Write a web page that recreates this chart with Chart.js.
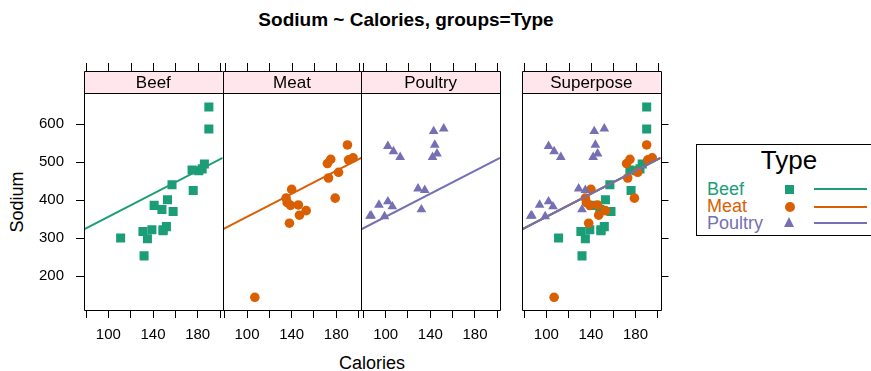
<!DOCTYPE html>
<html><head><meta charset="utf-8">
<script src="https://cdn.jsdelivr.net/npm/chart.js@4"></script>
<style>
html,body{margin:0;padding:0;background:#fff;width:871px;height:371px;overflow:hidden;font-family:"Liberation Sans",Arial,Helvetica,sans-serif;}
#wrap{position:relative;width:871px;height:371px;overflow:hidden;}
canvas{position:absolute;left:0;top:0;}
.t{position:absolute;white-space:nowrap;color:#000;}
</style></head><body>
<div id="wrap">
  <div class="t" style="left:0;width:812px;top:9.5px;font-size:19px;line-height:19px;font-weight:bold;text-align:center;">Sodium ~ Calories, groups=Type</div>
  <div class="t" style="left:272px;width:200px;top:354px;font-size:18px;line-height:18px;text-align:center;">Calories</div>
  <div class="t" style="left:-33px;width:100px;top:193px;font-size:18px;line-height:18px;text-align:center;transform:rotate(-90deg);">Sodium</div>
  <div id="legend" style="position:absolute;left:696px;top:144px;width:220px;height:92px;border:1px solid #000;box-sizing:border-box;"></div>
</div>
<script>
// ---- data ----
const groups = ['Beef', 'Meat', 'Poultry'];
const beefCalories = [186,181,176,149,184,190,158,139,175,148,152,111,141,153,190,157,131,149,135,132];
const beefSodium   = [495,477,425,322,482,587,370,322,479,375,330,300,386,401,645,440,317,319,298,253];
const meatCalories = [173,191,182,190,172,147,146,139,175,136,179,153,107,195,135,140,138];
const meatSodium   = [458,506,473,545,496,360,387,386,507,393,405,372,144,511,405,428,339];
const poultryCalories = [129,132,102,106,94,102,87,99,107,113,135,142,86,143,152,146,144];
const poultrySodium   = [430,375,396,383,387,542,359,357,528,513,426,513,358,581,588,522,545];
const fitCalories = [78.2, 202.4];
const fitSodium   = [323, 511];
const xTickValues = [80,100,120,140,160,180,200];
const xTickLabels = [100,140,180];
const yTickValues = [200,300,400,500,600];
const xRange = [78.2, 202.4];
const yRange = [110.5, 681];
const panelLabels = ['Beef', 'Meat', 'Poultry', 'Superpose'];

// ---- styling ----
const FONT = '"Liberation Sans", Arial, Helvetica, sans-serif';
const colors = {Beef:'#1B9E77', Meat:'#D95F02', Poultry:'#7570B3'};
const shapes = {Beef:'rect', Meat:'circle', Poultry:'triangle'};
const radii  = {Beef:6.4, Meat:4.8, Poultry:5.6};
const series = {
  Beef: {x: beefCalories, y: beefSodium},
  Meat: {x: meatCalories, y: meatSodium},
  Poultry: {x: poultryCalories, y: poultrySodium}
};
const W = 871, H = 371, panelTop = 93.3, panelBottom = 310, stripH = 22.3;
const panels = [
  {left:84,    right:222.7, groups:['Beef'],    yAxis:'left'},
  {left:222.7, right:361.3, groups:['Meat'],    yAxis:null},
  {left:361.3, right:500,   groups:['Poultry'], yAxis:null},
  {left:522,   right:660.5, groups:groups,      yAxis:'right'}
];

const latticePlugin = {
  id: 'lattice',
  afterDraw(chart, args, opts) {
    const ctx = chart.ctx, a = chart.chartArea;
    const r = v => Math.round(v) + 0.5;
    const st = a.top - stripH;
    ctx.save();
    ctx.fillStyle = '#FFE5EC';
    ctx.fillRect(a.left, st, a.right - a.left, stripH);
    ctx.strokeStyle = '#000';
    ctx.lineWidth = 1;
    ctx.beginPath();
    ctx.rect(r(a.left), r(st), Math.round(a.right) - Math.round(a.left), Math.round(a.bottom) - Math.round(st));
    ctx.moveTo(r(a.left), r(a.top)); ctx.lineTo(r(a.right), r(a.top));
    const xs = chart.scales.x;
    xs.ticks.forEach(t => {
      const px = r(xs.getPixelForValue(t.value));
      ctx.moveTo(px, Math.round(st)); ctx.lineTo(px, Math.round(st) - 8);
    });
    ctx.stroke();
    ctx.fillStyle = '#000';
    ctx.font = '17px ' + FONT;
    ctx.textAlign = 'center';
    ctx.textBaseline = 'middle';
    ctx.fillText(opts.label, (a.left + a.right) / 2, st + stripH / 2 + 1);
    ctx.restore();
  }
};

panels.forEach((p, pi) => {
  const cv = document.createElement('canvas');
  cv.width = W; cv.height = H;
  cv.style.width = W + 'px'; cv.style.height = H + 'px';
  document.getElementById('wrap').appendChild(cv);
  const datasets = [];
  let ord = 100;
  p.groups.forEach(g => {
    const s = series[g];
    datasets.push({
      type: 'scatter', label: g,
      data: s.x.map((v, i) => ({x: v, y: s.y[i]})),
      pointStyle: shapes[g], pointRadius: radii[g], pointHoverRadius: radii[g],
      pointBackgroundColor: colors[g], pointBorderWidth: 0, borderColor: colors[g],
      showLine: false, order: ord--
    });
    datasets.push({
      type: 'line', label: g + ' fit',
      data: fitCalories.map((v, i) => ({x: v, y: fitSodium[i]})),
      borderColor: colors[g], borderWidth: 2, pointRadius: 0, fill: false,
      order: ord--
    });
  });
  const xAxisH = 40;
  let padLeft = p.left, padRight = W - p.right;
  let yScale;
  const yGrid = {drawOnChartArea:false, drawTicks:true, tickLength:8, color:'#000', lineWidth:1};
  if (p.yAxis === 'left') {
    padLeft = p.left - 64;
    yScale = {type:'linear', position:'left', min:yRange[0], max:yRange[1],
      afterBuildTicks: s => { s.ticks = yTickValues.map(v => ({value:v})); },
      ticks:{padding:12, color:'#000', font:{size:15, family:FONT}, callback: v => String(v)},
      grid: yGrid, border:{display:false}, afterFit: s => { s.width = 64; }};
  } else if (p.yAxis === 'right') {
    padRight = W - p.right - 10;
    yScale = {type:'linear', position:'right', min:yRange[0], max:yRange[1],
      afterBuildTicks: s => { s.ticks = yTickValues.map(v => ({value:v})); },
      ticks:{display:false}, grid: yGrid, border:{display:false}, afterFit: s => { s.width = 10; }};
  } else {
    yScale = {type:'linear', display:false, min:yRange[0], max:yRange[1]};
  }
  new Chart(cv, {
    data: {datasets},
    options: {
      responsive:false, animation:false, devicePixelRatio:1,
      events: [],
      layout: {padding:{left:padLeft, right:padRight, top:panelTop, bottom:H - panelBottom - xAxisH}},
      scales: {
        x: {type:'linear', position:'bottom', min:xRange[0], max:xRange[1],
          afterBuildTicks: s => { s.ticks = xTickValues.map(v => ({value:v})); },
          ticks:{autoSkip:false, maxRotation:0, padding:8, color:'#000', font:{size:15, family:FONT},
            callback: v => xTickLabels.includes(v) ? String(v) : ''},
          grid:{drawOnChartArea:false, drawTicks:true, tickLength:8, color:'#000', lineWidth:1},
          border:{display:false}, afterFit: s => { s.height = xAxisH; }},
        y: yScale
      },
      plugins: {legend:{display:false}, tooltip:{enabled:false}, title:{display:false},
        lattice:{label: panelLabels[pi]}}
    },
    plugins: [latticePlugin]
  });
});

// ---- legend (HTML) ----
const leg = document.getElementById('legend');
const L = (html) => { leg.insertAdjacentHTML('beforeend', html); };
L('<div class="t" style="left:0;width:184px;top:2px;font-size:26px;line-height:26px;text-align:center;">Type</div>');
const legRows = [34.5, 51.5, 68.5];
const symCenters = [44, 61.5, 77.5];
groups.forEach((g, i) => {
  const c = colors[g];
  L(`<div class="t" style="left:10px;top:${legRows[i]}px;font-size:18px;line-height:18px;color:${c};">${g}</div>`);
  const cy = symCenters[i];
  let sym;
  if (g === 'Beef') sym = `<div style="position:absolute;left:88px;top:${cy-4.5}px;width:9px;height:9px;background:${c};"></div>`;
  else if (g === 'Meat') sym = `<div style="position:absolute;left:87.5px;top:${cy-5}px;width:10px;height:10px;border-radius:50%;background:${c};"></div>`;
  else sym = `<div style="position:absolute;left:87px;top:${cy-6}px;width:0;height:0;border-left:5.5px solid transparent;border-right:5.5px solid transparent;border-bottom:10px solid ${c};"></div>`;
  L(sym);
  L(`<div style="position:absolute;left:117px;top:${cy-1}px;width:53px;height:2px;background:${c};"></div>`);
});
</script>
</body></html>
